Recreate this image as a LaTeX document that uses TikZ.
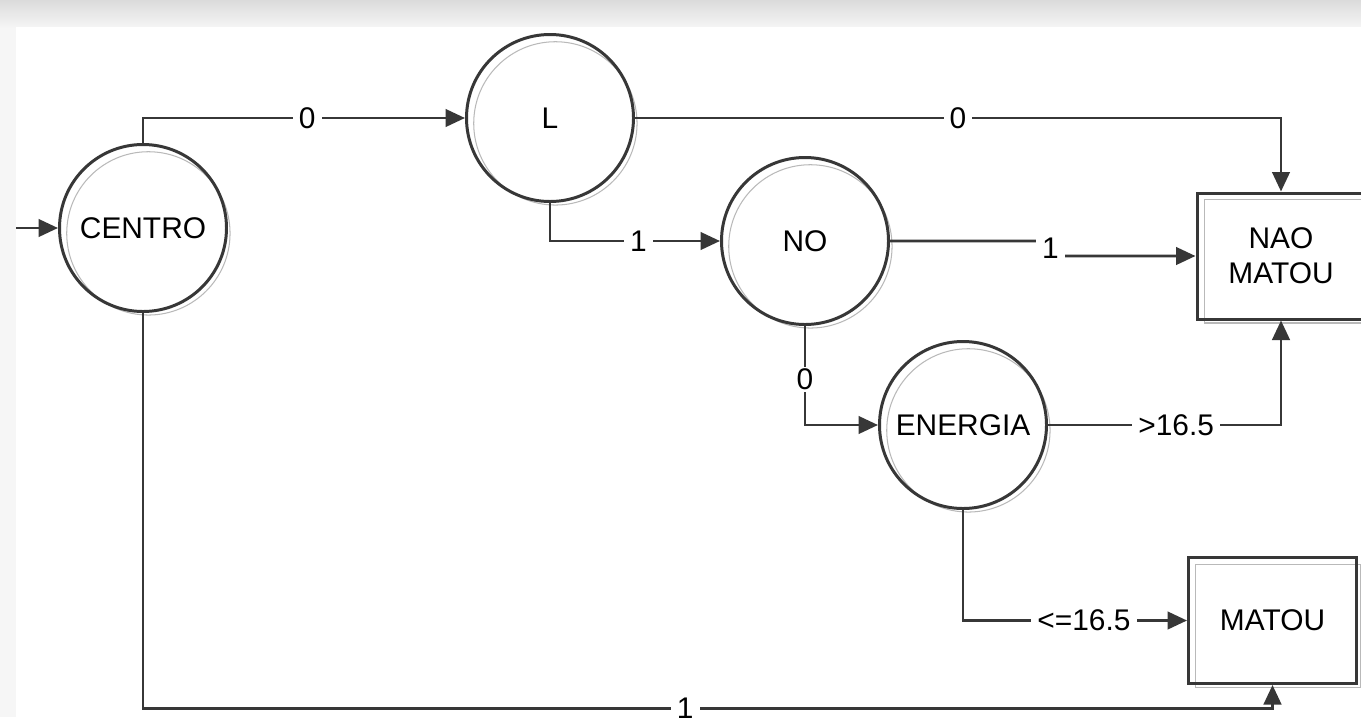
\documentclass[tikz,border=0pt]{standalone}
\usepackage{fontspec}
\setmainfont{Liberation Sans}
\usepackage{xcolor}
\definecolor{dtline}{RGB}{55,55,55}
\definecolor{dtshadow}{RGB}{185,185,185}
\usepackage{tikz}
\usetikzlibrary{arrows.meta,positioning,shadows}
\newcommand{\dtfont}{\fontsize{17}{20}\selectfont}
\tikzset{
  state/.style={circle,draw=dtline,line width=1.7pt,minimum size=3.34cm,inner sep=0pt,font=\dtfont,
    drop shadow={shadow xshift=0.11cm,shadow yshift=-0.11cm,shadow scale=0.978,fill=none,draw=dtshadow,line width=0.6pt,opacity=1}},
  leaf/.style={rectangle,draw=dtline,line width=1.7pt,minimum width=3.36cm,minimum height=2.52cm,inner sep=0pt,align=center,font=\dtfont,
    drop shadow={shadow xshift=0.11cm,shadow yshift=-0.11cm,shadow scale=0.978,fill=none,draw=dtshadow,line width=0.6pt,opacity=1}},
  flow/.style={-{Triangle[length=3.9mm,width=3.5mm]},draw=dtline,line width=1.6pt},
  lbl/.style={fill=white,inner xsep=3.5pt,inner ysep=1pt,font=\dtfont},
}

\begin{document}
\begin{tikzpicture}[node distance=1cm,on grid]
% screenshot frame
\useasboundingbox (0,0) rectangle (27.22,-14.34);
\fill[gray!7] (0,0) rectangle (27.22,-14.34);
\shade[top color=gray!28,bottom color=gray!8] (0,0) rectangle (27.22,-0.54);
\fill[white] (0.32,-0.54) rectangle (27.22,-14.34);
% decision nodes
\node[state] (centro) at (2.86,-4.56) {CENTRO};
\node[state,above right=2.2cm and 8.14cm of centro] (l) {L};
\node[state,below right=2.46cm and 5.1cm of l] (no) {NO};
\node[state,below right=3.68cm and 3.16cm of no] (energia) {ENERGIA};
% leaves
\node[leaf,below right=0.3cm and 9.52cm of no] (nao) {NAO\\MATOU};
\node[leaf,below right=3.91cm and 6.19cm of energia] (matou) {MATOU};
\coordinate[left=2.54cm of centro] (start);
% edges
\draw[flow] (start) -- (centro);
\draw[flow] (centro.north) |- node[lbl,pos=0.755]{0} (l.west);
\draw[flow] (l.east) -| node[lbl,pos=0.25]{0} (nao.north);
\draw[flow] (l.south) |- node[lbl,pos=0.76]{1} (no.west);
\draw[flow] (no.east) -- ++(2.94,0) -- node[lbl,inner ysep=3pt]{1} ++(0.54,-0.3) -- (nao.west);
\draw[flow] (no.south) |- node[lbl,pos=0.27]{0} (energia.west);
\draw[flow] (energia.east) -| node[lbl,pos=0.275]{>16.5} (nao.south);
\draw[flow] (energia.south) |- node[lbl,pos=0.77]{<=16.5} (matou.west);
\draw[flow] (centro.south) -- ++(0,-7.91) -| node[lbl,pos=0.24]{1} (matou.south);
\end{tikzpicture}
\end{document}
